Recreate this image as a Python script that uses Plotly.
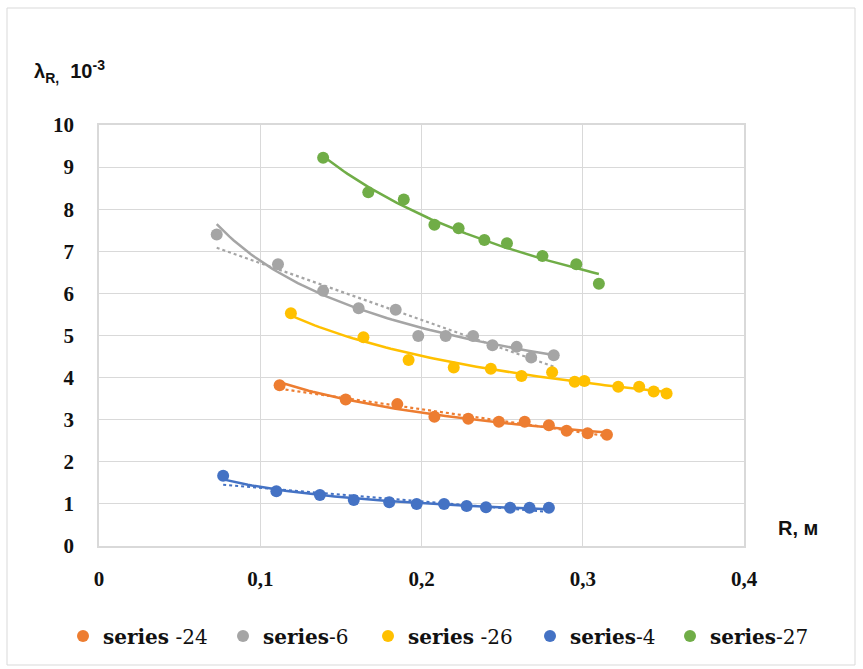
import numpy as np
import plotly.graph_objects as go

# ---- data ----
names = ["series -24", "series-6", "series -26", "series-4", "series-27"]
legend_html = ["<b>series</b> -24", "<b>series</b>-6", "<b>series</b> -26", "<b>series</b>-4", "<b>series</b>-27"]
colors = ["#ED7D31", "#A5A5A5", "#FFC000", "#4472C4", "#70AD47"]

x_s24 = [0.112, 0.153, 0.185, 0.208, 0.229, 0.248, 0.264, 0.279, 0.290, 0.303, 0.315]
y_s24 = [3.82, 3.48, 3.37, 3.07, 3.02, 2.95, 2.95, 2.87, 2.74, 2.68, 2.64]

x_s6 = [0.073, 0.111, 0.139, 0.161, 0.184, 0.198, 0.215, 0.232, 0.244, 0.259, 0.268, 0.282]
y_s6 = [7.40, 6.69, 6.06, 5.65, 5.61, 4.99, 4.99, 4.99, 4.77, 4.73, 4.48, 4.53]

x_s26 = [0.119, 0.164, 0.192, 0.220, 0.243, 0.262, 0.281, 0.295, 0.301, 0.322, 0.335, 0.344, 0.352]
y_s26 = [5.53, 4.96, 4.42, 4.24, 4.21, 4.04, 4.13, 3.90, 3.92, 3.78, 3.78, 3.67, 3.62]

x_s4 = [0.077, 0.110, 0.137, 0.158, 0.180, 0.197, 0.214, 0.228, 0.240, 0.255, 0.267, 0.279]
y_s4 = [1.67, 1.30, 1.21, 1.09, 1.04, 1.00, 1.00, 0.95, 0.92, 0.91, 0.91, 0.91]

x_s27 = [0.139, 0.167, 0.189, 0.208, 0.223, 0.239, 0.253, 0.275, 0.296, 0.310]
y_s27 = [9.22, 8.40, 8.23, 7.63, 7.55, 7.27, 7.19, 6.89, 6.69, 6.23]

series_x = [x_s24, x_s6, x_s26, x_s4, x_s27]
series_y = [y_s24, y_s6, y_s26, y_s4, y_s27]
has_linear_trend = [True, True, False, True, False]

x_ticks = [0, 0.1, 0.2, 0.3, 0.4]
x_ticktext = ["0", "0,1", "0,2", "0,3", "0,4"]
y_ticks = list(range(0, 11))

# legend item left edges (pixels in the 863-wide page)
legend_px = [63, 223, 368, 530, 670]

PL, PR, PT, PB = 99, 744, 125, 546
PW, PH = PR - PL, PB - PT

def px2paper_x(px):
    return (px - PL) / PW

def px2paper_y(py):
    return (PB - py) / PH

fig = go.Figure()

for i in range(5):
    xs = np.array(series_x[i]); ys = np.array(series_y[i])
    xt = np.linspace(xs.min(), xs.max(), 80)
    # power trendline (solid)
    b, lna = np.polyfit(np.log(xs), np.log(ys), 1)
    fig.add_trace(go.Scatter(x=xt, y=np.exp(lna) * xt ** b, mode="lines",
                             line=dict(color=colors[i], width=2.5), showlegend=False,
                             hoverinfo="skip"))
    if has_linear_trend[i]:
        m, c = np.polyfit(xs, ys, 1)
        fig.add_trace(go.Scatter(x=xt, y=m * xt + c, mode="lines",
                                 line=dict(color=colors[i], width=2.2, dash="dot"),
                                 showlegend=False, hoverinfo="skip"))

legend_keys = ["legend", "legend2", "legend3", "legend4", "legend5"]
for i in range(5):
    fig.add_trace(go.Scatter(x=series_x[i], y=series_y[i], mode="markers", name=legend_html[i],
                             marker=dict(color=colors[i], size=12), legend=legend_keys[i]))

grid = "#D9D9D9"
legend_layouts = {}
for i, key in enumerate(legend_keys):
    legend_layouts[key] = dict(orientation="h", x=px2paper_x(legend_px[i]), y=px2paper_y(636),
                               xanchor="left", yanchor="middle",
                               bgcolor="rgba(0,0,0,0)",
                               font=dict(family="DejaVu Serif", size=20, color="#111"))

fig.update_layout(
    width=863, height=669,
    margin=dict(l=PL, r=863 - PR, t=PT, b=669 - PB),
    paper_bgcolor="white", plot_bgcolor="white",
    showlegend=True,
    xaxis=dict(range=[0, 0.4], tickvals=x_ticks, ticktext=x_ticktext,
               showgrid=True, gridcolor=grid, gridwidth=1,
               showline=True, linecolor=grid, linewidth=1.5, mirror=True,
               zeroline=False, ticks="", ticklabelstandoff=13,
               tickfont=dict(family="Liberation Serif", size=21, color="#111", weight="bold")),
    yaxis=dict(range=[0, 10], tickvals=y_ticks,
               showgrid=True, gridcolor=grid, gridwidth=1,
               showline=True, linecolor=grid, linewidth=1.5, mirror=True,
               zeroline=False, ticks="", ticklabelstandoff=19,
               tickfont=dict(family="Liberation Serif", size=21, color="#111", weight="bold")),
    annotations=[
        dict(text="<b>λ<sub>R,</sub>  10<sup>-3</sup></b>", xref="paper", yref="paper",
             x=px2paper_x(32), y=px2paper_y(71), xanchor="left", yanchor="middle",
             showarrow=False, font=dict(family="Liberation Sans", size=20, color="#111")),
        dict(text="<b>R, м</b>", xref="paper", yref="paper",
             x=px2paper_x(776), y=px2paper_y(528), xanchor="left", yanchor="middle",
             showarrow=False, font=dict(family="Liberation Sans", size=20, color="#111")),
    ],
    shapes=[dict(type="rect", xref="paper", yref="paper",
                 x0=px2paper_x(7), x1=px2paper_x(855),
                 y0=px2paper_y(665), y1=px2paper_y(8),
                 line=dict(color=grid, width=1), fillcolor="rgba(0,0,0,0)", layer="below")],
    **legend_layouts,
)

fig.write_html("out.html")
